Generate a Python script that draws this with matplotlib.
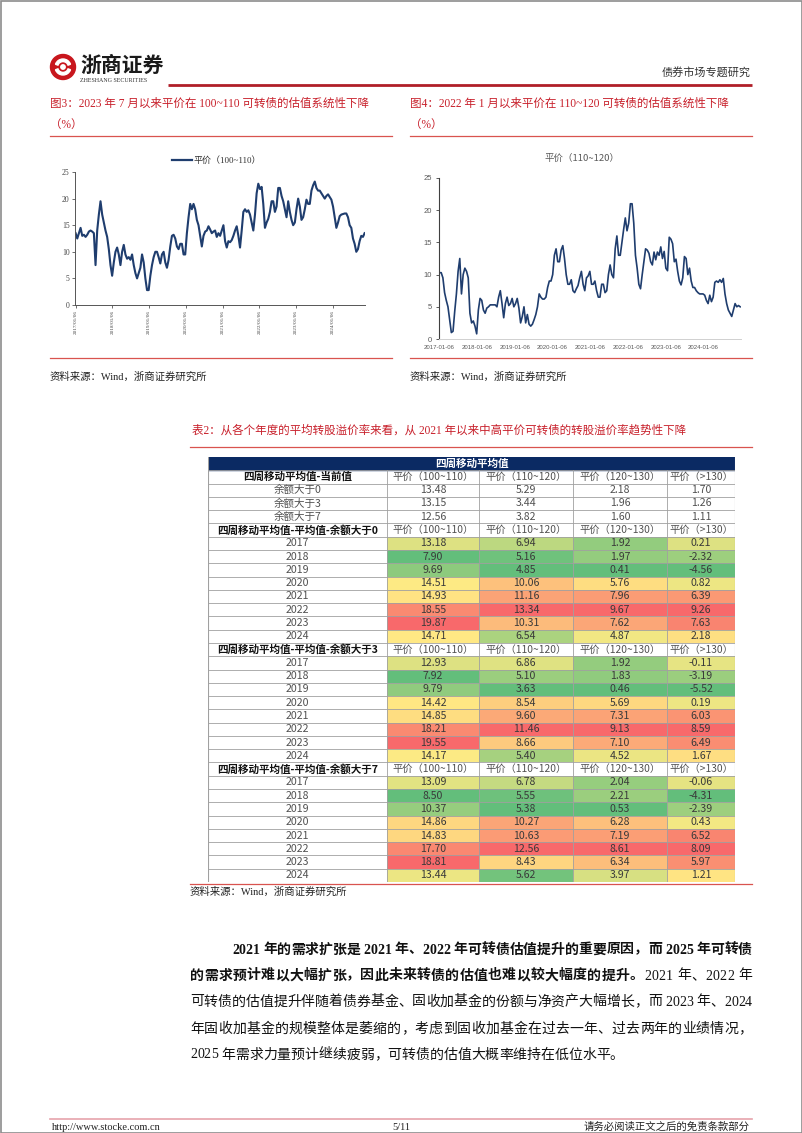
import numpy as np
import pandas as pd
import matplotlib
matplotlib.use('Agg')
import matplotlib.pyplot as plt
import matplotlib.dates as mdates
from matplotlib.colors import LinearSegmentedColormap, TwoSlopeNorm
from matplotlib.patches import Rectangle, Circle, Wedge

# ---------------- data ----------------
chart1_values = [
    13.5, 12.5, 13.5, 14.5, 13, 13.2, 12.8, 13.2, 13.8, 14, 13.8, 13.5, 7.5, 14, 17, 19.5, 17, 15.5, 14, 12.8,
    10.5, 7.5, 5.5, 8, 10, 10.8, 9.5, 7.5, 10, 11.3, 9.5, 8.7, 9, 8.5, 9.5, 7.5, 6, 5, 6, 7,
    9.5, 8, 5, 2.8, 2.8, 5.5, 7.5, 9, 10, 10, 9, 7.8, 9.5, 10, 8, 7, 8.5, 11, 13, 13.2,
    12.5, 11, 10.5, 11.5, 11.5, 9.5, 9.5, 13.5, 16.5, 19, 18, 19, 18, 16, 15, 13, 11, 13, 13.8, 14,
    14.8, 14.2, 13.5, 13.8, 14, 12.8, 13.5, 13, 14, 15, 12, 10.8, 12, 11.8, 12.2, 13, 14, 14.8, 13, 10.8,
    14, 17.5, 18, 17.5, 17.8, 17, 15.5, 14, 17, 21, 22.8, 21.8, 22.2, 19, 14.5, 15.5, 16.2, 17.5, 19.5, 19.5,
    17.5, 18.5, 22, 22, 20.5, 19.5, 18, 16.5, 19.5, 17.5, 16, 15, 15.5, 18, 20, 18.5, 16, 16.5, 18, 19.8,
    19, 19, 21.5, 22.5, 23.2, 22, 21.5, 21.5, 21, 20.5, 20, 20.5, 20.8, 20.3, 19.8, 18.5, 16.5, 14.5, 15.5, 16.7,
    17, 17.1, 17.2, 17.2, 16.5, 15, 14.5, 12.5, 11.5, 10, 10.5, 12, 13, 12.8, 13.5,
]
chart1_start, chart1_end = '2017-01-06', '2024-11-15'

chart2_values = [
    10.3, 10.3, 9.5, 7.2, 6, 5, 3, 1, 1.2, 4.3, 7, 10.5, 12.5, 7, 10, 11, 10.5, 9.5, 4, 2.5,
    2.8, 2, 0.8, 4.5, 6.3, 6, 4.5, 4, 4.8, 5, 5.3, 5.3, 5.3, 5.3, 5, 6.5, 7.5, 5.5, 3.3, 5.5,
    6.5, 5.2, 5.5, 6.3, 5, 5.5, 6.3, 4.8, 2.5, 3.5, 5, 2.5, 3.8, 2.3, 2, 2.3, 3, 3.8, 5, 7,
    6.5, 6.2, 6.2, 6.5, 8, 9, 9, 10, 13, 14, 12, 12, 13.8, 14.5, 12.5, 10, 8.5, 8.5, 9.2, 7.5,
    7.2, 7.8, 8.3, 9.5, 10.5, 8.5, 7.5, 9.5, 9.8, 10.5, 8.5, 8.5, 9, 7.5, 6.5, 6.5, 8.5, 8.5, 7.2, 7.5,
    10, 11.5, 10, 9.5, 14, 16, 13, 13, 15, 17, 18.8, 16.8, 18, 21, 21, 18, 13, 11, 8.5, 7.8,
    10, 12, 14, 13.8, 13.3, 12, 11.5, 13.5, 12.3, 13.5, 13, 14.3, 12.5, 13.6, 11, 10.6, 15.8, 15.5, 14.8, 12,
    12.4, 10.5, 9, 8.4, 9.5, 12.8, 12.5, 10, 11, 9, 8, 8, 7.5, 7.2, 7, 7, 7, 6.8, 6, 5.5,
    6.8, 5.8, 6.5, 8.8, 9, 8.8, 9.2, 8.8, 9.4, 7, 5.5, 4.5, 4, 3.5, 4.5, 5.5, 5, 5.2, 5,
]
chart2_start, chart2_end = '2017-01-06', '2024-12-27'
year_ticks = ['2017-01-06', '2018-01-06', '2019-01-06', '2020-01-06', '2021-01-06',
              '2022-01-06', '2023-01-06', '2024-01-06']

col_headers = ['平价（100~110）', '平价（110~120）', '平价（120~130）', '平价（>130）']
current_labels = ['余额大于0', '余额大于3', '余额大于7']
current_values = [[13.48, 5.29, 2.18, 1.70],
                  [13.15, 3.44, 1.96, 1.26],
                  [12.56, 3.82, 1.60, 1.11]]
years = ['2017', '2018', '2019', '2020', '2021', '2022', '2023', '2024']
section_titles = ['四周移动平均值-平均值-余额大于0', '四周移动平均值-平均值-余额大于3', '四周移动平均值-平均值-余额大于7']
sec0 = [[13.18, 7.90, 9.69, 14.51, 14.93, 18.55, 19.87, 14.71],
        [6.94, 5.16, 4.85, 10.06, 11.16, 13.34, 10.31, 6.54],
        [1.92, 1.97, 0.41, 5.76, 7.96, 9.67, 7.62, 4.87],
        [0.21, -2.32, -4.56, 0.82, 6.39, 9.26, 7.63, 2.18]]
sec3 = [[12.93, 7.92, 9.79, 14.42, 14.85, 18.21, 19.55, 14.17],
        [6.86, 5.10, 3.63, 8.54, 9.60, 11.46, 8.66, 5.40],
        [1.92, 1.83, 0.46, 5.69, 7.31, 9.13, 7.10, 4.52],
        [-0.11, -3.19, -5.52, 0.19, 6.03, 8.59, 6.49, 1.67]]
sec7 = [[13.09, 8.50, 10.37, 14.86, 14.83, 17.70, 18.81, 13.44],
        [6.78, 5.55, 5.38, 10.27, 10.63, 12.56, 8.43, 5.62],
        [2.04, 2.21, 0.53, 6.28, 7.19, 8.61, 6.34, 3.97],
        [-0.06, -4.31, -2.39, 0.43, 6.52, 8.09, 5.97, 1.21]]

# ---------------- style ----------------
CJK = ['Noto Sans CJK SC']
SER = ['Liberation Serif', 'Noto Sans CJK SC']
SANS = ['Liberation Sans', 'Noto Sans CJK SC']
RED = '#C8202B'
NAVY = '#1F3D6E'
W, H = 802, 1133

fig = plt.figure(figsize=(W / 100, H / 100), dpi=100)
pg = fig.add_axes([0, 0, 1, 1])
pg.set_xlim(0, W)
pg.set_ylim(H, 0)
pg.axis('off')
renderer = fig.canvas.get_renderer()


def ax_px(l, t, r, b):
    return fig.add_axes([l / W, 1 - b / H, (r - l) / W, (b - t) / H])


# page frame
pg.add_patch(Rectangle((0.5, 0.5), W - 1, H - 1, fill=False, ec='#8c8c8c', lw=1.2))

# ---------------- header ----------------
pg.add_patch(Circle((63, 67), 12.5, color='#C8161D'))
pg.add_patch(Wedge((63, 67), 8, 200, 340, width=2.6, color='white'))
pg.add_patch(Wedge((63, 67), 8, 20, 160, width=2.6, color='white'))
pg.add_patch(Circle((63, 67), 2.2, color='white'))
pg.text(80, 65, '浙商证券', family=CJK, fontsize=15, fontweight='bold', color='#1a1a1a', va='center')
pg.text(80, 81, 'ZHESHANG SECURITIES', family=SER, fontsize=4.3, color='#333333', va='center')
pg.plot([168, 752], [85, 85], color='#B01E28', lw=2.0, solid_capstyle='butt')
pg.text(751, 73, '债券市场专题研究', family=CJK, fontsize=8, color='#333333', ha='right', va='center')

# ---------------- figure titles ----------------
pg.text(50, 104, '图3：2023 年 7 月以来平价在 100~110 可转债的估值系统性下降', family=SER, fontsize=8.3,
        color=RED, va='center')
pg.text(50, 125, '（%）', family=SER, fontsize=8.3, color=RED, va='center')
pg.text(410, 104, '图4：2022 年 1 月以来平价在 110~120 可转债的估值系统性下降', family=SER, fontsize=8.3,
        color=RED, va='center')
pg.text(410, 125, '（%）', family=SER, fontsize=8.3, color=RED, va='center')
for x0, x1 in [(50, 392), (410, 752)]:
    pg.plot([x0, x1], [136, 136], color='#D9534F', lw=0.9)
    pg.plot([x0, x1], [358, 358], color='#D9534F', lw=0.9)
pg.text(50, 377, '资料来源：Wind，浙商证券研究所', family=SER, fontsize=7.5, color='#222222', va='center')
pg.text(410, 377, '资料来源：Wind，浙商证券研究所', family=SER, fontsize=7.5, color='#222222', va='center')

# ---------------- chart 1 ----------------
d1 = pd.date_range(chart1_start, chart1_end, periods=len(chart1_values))
ax1 = ax_px(75, 172, 365, 305)
ax1.plot(d1, chart1_values, color=NAVY, lw=1.5)
ax1.set_ylim(0, 25)
ax1.set_yticks(range(0, 26, 5))
ax1.set_xlim(d1[0] - pd.Timedelta(days=6), d1[-1] + pd.Timedelta(days=4))
ax1.set_xticks(pd.to_datetime(year_ticks))
ax1.xaxis.set_major_formatter(mdates.DateFormatter('%Y/%m/%d'))
for s in ['top', 'right']:
    ax1.spines[s].set_visible(False)
for s in ['left', 'bottom']:
    ax1.spines[s].set_color('#555555')
    ax1.spines[s].set_linewidth(0.7)
ax1.tick_params(axis='y', labelsize=5.5, labelcolor='#444444', length=2, width=0.6, color='#555555', pad=2)
ax1.tick_params(axis='x', labelsize=3.8, labelcolor='#444444', length=2, width=0.6, color='#555555',
                labelrotation=90, pad=1.5)
for lab in ax1.get_yticklabels() + ax1.get_xticklabels():
    lab.set_family(SER)
pg.plot([172, 192], [160, 160], color=NAVY, lw=1.6)
pg.text(194, 160, '平价（100~110）', family=SER, fontsize=6.5, color='#333333', va='center')

# ---------------- chart 2 ----------------
d2 = pd.date_range(chart2_start, chart2_end, periods=len(chart2_values))
ax2 = ax_px(439, 178, 741, 339)
ax2.plot(d2, chart2_values, color=NAVY, lw=1.2)
ax2.set_ylim(0, 25)
ax2.set_yticks(range(0, 26, 5))
ax2.set_xlim(d2[0] - pd.Timedelta(days=5), d2[-1] + pd.Timedelta(days=8))
ax2.set_xticks(pd.to_datetime(year_ticks))
ax2.xaxis.set_major_formatter(mdates.DateFormatter('%Y-%m-%d'))
for s in ['top', 'right']:
    ax2.spines[s].set_visible(False)
ax2.spines['left'].set_color('#404040')
ax2.spines['left'].set_linewidth(0.8)
ax2.spines['bottom'].set_color('#D0D0D0')
ax2.spines['bottom'].set_linewidth(0.7)
ax2.tick_params(axis='y', labelsize=5.5, labelcolor='#595959', length=2, width=0.6, color='#404040', pad=3)
ax2.tick_params(axis='x', labelsize=4.3, labelcolor='#595959', length=0, pad=4)
for lab in ax2.get_yticklabels() + ax2.get_xticklabels():
    lab.set_family(SANS)
pg.text(582, 158, '平价（110~120）', family=CJK, fontsize=6.8, color='#595959', ha='center', va='center')

# ---------------- table ----------------
pg.text(192, 431, '表2：从各个年度的平均转股溢价率来看，从 2021 年以来中高平价可转债的转股溢价率趋势性下降',
        family=SER, fontsize=8.3, color=RED, va='center')
pg.plot([190, 752], [447, 447], color='#D9534F', lw=0.9)

cmap = LinearSegmentedColormap.from_list('xl', ['#63BE7B', '#FFEB84', '#F8696B'])
tx = [208, 387, 479, 573, 667, 735]
t_top, t_bot = 457, 882
nrows = 32
tab = ax_px(tx[0], t_top, tx[-1], t_bot)
tab.set_xlim(tx[0], tx[-1])
tab.set_ylim(nrows, 0)
tab.axis('off')
TXT = '#3a3a3a'
GRID = '#A0A0A0'
FS = 7.6


def cell_center(c):
    return (tx[c] + tx[c + 1]) / 2


tab.add_patch(Rectangle((tx[0], 0), tx[-1] - tx[0], 1, color='#0B2A63'))
tab.text((tx[0] + tx[-1]) / 2, 0.5, '四周移动平均值', family=CJK, fontsize=FS, color='white',
         ha='center', va='center', fontweight='bold')

row = 1


def header_row(r, title):
    tab.text(cell_center(0), r + 0.5, title, family=CJK, fontsize=FS, fontweight='bold', color='#111111',
             ha='center', va='center')
    for c, h in enumerate(col_headers):
        tab.text(cell_center(c + 1), r + 0.5, h, family=CJK, fontsize=FS - 0.2, color='#505050',
                 ha='center', va='center')


header_row(row, '四周移动平均值-当前值')
row += 1
for lab, vals in zip(current_labels, current_values):
    tab.text(cell_center(0), row + 0.5, lab, family=CJK, fontsize=FS, color='#505050', ha='center', va='center')
    for c, v in enumerate(vals):
        tab.text(cell_center(c + 1), row + 0.5, f'{v:.2f}', family=CJK, fontsize=FS, color='#505050',
                 ha='center', va='center')
    row += 1

for title, sec in zip(section_titles, [sec0, sec3, sec7]):
    header_row(row, title)
    row += 1
    for c, colvals in enumerate(sec):
        arr = np.array(colvals)
        norm = TwoSlopeNorm(vmin=arr.min(), vcenter=np.median(arr), vmax=arr.max())
        for i, v in enumerate(colvals):
            tab.add_patch(Rectangle((tx[c + 1], row + i), tx[c + 2] - tx[c + 1], 1, color=cmap(norm(v)), lw=0))
            tab.text(cell_center(c + 1), row + i + 0.5, f'{v:.2f}', family=CJK, fontsize=FS, color=TXT,
                     ha='center', va='center')
    for i, y in enumerate(years):
        tab.text(cell_center(0), row + i + 0.5, y, family=CJK, fontsize=FS, color='#505050',
                 ha='center', va='center')
    row += len(years)

for r in range(1, nrows + 1):
    tab.plot([tx[0], tx[-1]], [r, r], color=GRID, lw=0.6)
for x in tx:
    tab.plot([x, x], [1, nrows], color=GRID, lw=0.6)
tab.plot([tx[0], tx[0]], [0, nrows], color=GRID, lw=0.8)
tab.plot([tx[-1], tx[-1]], [0, nrows], color=GRID, lw=0.8)

pg.plot([190, 752], [884, 884], color='#D9534F', lw=0.9)
pg.text(190, 892, '资料来源：Wind，浙商证券研究所', family=SER, fontsize=7.5, color='#222222', va='center')

# ---------------- body text (justified) ----------------
BFS = 10.0


def _w(s, weight):
    t = pg.text(0, 0, s + '|', family=SER, fontsize=BFS, fontweight=weight)
    w = t.get_window_extent(renderer).width
    t.remove()
    t = pg.text(0, 0, '|', family=SER, fontsize=BFS, fontweight=weight)
    w0 = t.get_window_extent(renderer).width
    t.remove()
    return w - w0


def justify(segments, x0, y, x1=None):
    chars = []
    off = 0.0
    for s, wt in segments:
        for i, ch in enumerate(s):
            chars.append((ch, wt, off + _w(s[:i], wt)))
        off += _w(s, wt)
    extra = 0.0
    if x1 is not None and len(chars) > 1:
        extra = ((x1 - x0) - off) / (len(chars) - 1)
    for i, (ch, wt, px) in enumerate(chars):
        if ch == ' ':
            continue
        pg.text(x0 + px + i * extra, y, ch, family=SER, fontsize=BFS, fontweight=wt, color='#111111',
                va='center', ha='left')


justify([('2021 年的需求扩张是 2021 年、2022 年可转债估值提升的重要原因，而 2025 年可转债', 'bold')], 232, 950, 752)
justify([('的需求预计难以大幅扩张，因此未来转债的估值也难以较大幅度的提升。', 'bold'),
         ('2021 年、2022 年', 'normal')], 190, 976, 752)
justify([('可转债的估值提升伴随着债券基金、固收加基金的份额与净资产大幅增长，而 2023 年、2024', 'normal')],
        190, 1002, 752)
justify([('年固收加基金的规模整体是萎缩的，考虑到固收加基金在过去一年、过去两年的业绩情况，', 'normal')],
        190, 1029, 752)
justify([('2025 年需求力量预计继续疲弱，可转债的估值大概率维持在低位水平。', 'normal')], 190, 1055)

# ---------------- footer ----------------
pg.plot([50, 752], [1119, 1119], color='#E6A3AB', lw=1.2)
pg.text(52, 1127, 'http://www.stocke.com.cn', family=SER, fontsize=7.5, color='#222222', va='center')
pg.text(401, 1127, '5/11', family=SER, fontsize=7.5, color='#222222', ha='center', va='center')
pg.text(750, 1127, '请务必阅读正文之后的免责条款部分', family=CJK, fontsize=7.5, color='#222222', ha='right',
        va='center')

fig.savefig('out.png', dpi=100)
